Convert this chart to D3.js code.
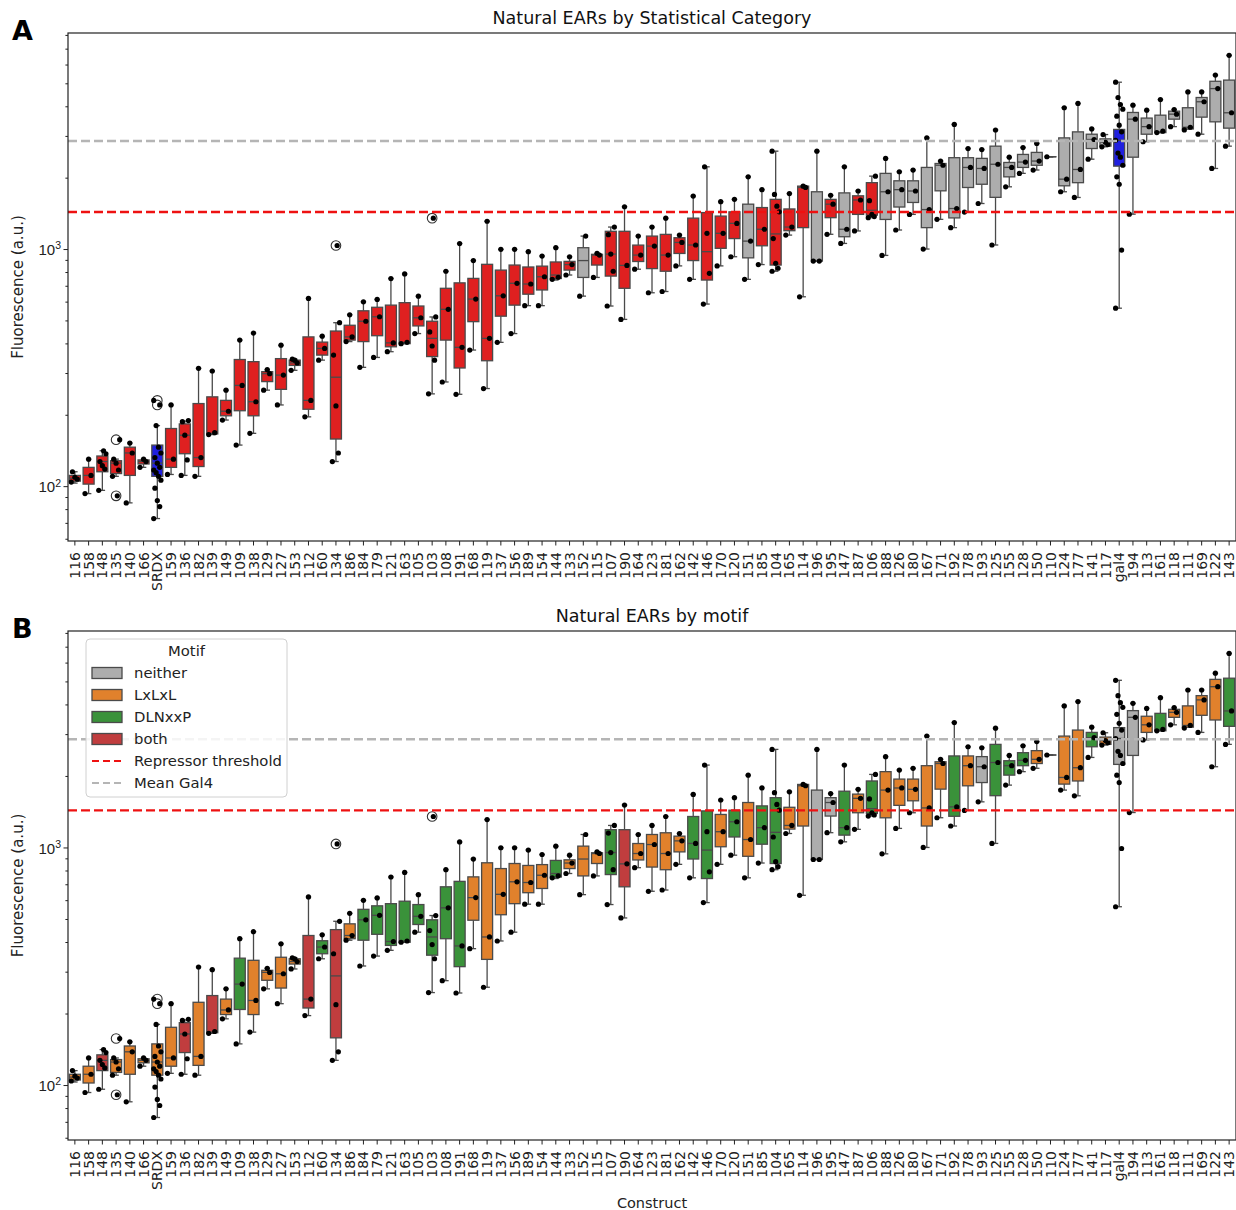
<!DOCTYPE html>
<html>
<head>
<meta charset="utf-8">
<script src="https://cdn.jsdelivr.net/npm/d3@7"></script>
<style>
  body { margin: 0; background: #fff; }
  svg { display: block; font-family: "DejaVu Sans", sans-serif; }
</style>
</head>
<body>
<svg id="fig" width="1236" height="1210"></svg>
<script>
// Constructs, ordered by median fluorescence
const constructs = ["116","158","148","135","140","166","SRDX","159","136","182","139","149","109","138","129","127","153","112","160","134","186","184","179","121","163","105","103","108","191","168","119","137","156","189","154","144","133","152","115","107","190","164","123","181","162","142","146","170","120","151","185","104","165","114","196","195","147","187","106","188","126","180","167","171","192","178","193","125","155","128","150","110","124","177","141","117","gal4","194","113","161","118","111","169","122","143"];

// Box statistics (fluorescence, a.u.)
const whiskerLow  = [103,93,96,110,85,120,73,112,111,110,165,190,149,167,254,220,308,196,340,127,407,317,349,369,399,440,245,275,244,375,258,404,440,577,577,740,777,633,759,575,505,822,654,662,849,745,586,849,928,745,860,806,1145,629,890,1154,1056,1192,1356,940,1203,1400,1000,1334,1231,1432,1556,1040,1830,2085,2154,2450,1744,1650,2393,2698,563,1403,2835,3098,3283,3210,3050,2187,2716];
const quartile1   = [105,102,115,113,111,124,110,120,137,121,166,198,208,198,276,256,323,211,357,158,413,407,431,387,399,474,352,413,315,494,338,521,580,645,672,751,815,759,856,769,683,886,827,806,958,894,740,1007,1107,918,1032,856,1195,1231,890,1356,1127,1400,1390,1333,1504,1572,1231,1760,1353,1818,1876,1652,2016,2209,2256,2450,1848,1905,2654,2716,2237,2440,3050,3098,3530,3210,3600,3440,3235];
const medians     = [108,111,127,125,138,127,125,130,164,132,167,207,266,227,298,294,331,230,381,288,426,496,518,402,404,513,420,557,385,615,420,635,717,712,764,777,860,894,943,952,853,943,1029,943,1066,1040,975,1165,1283,1080,1212,1158,1238,1819,890,1546,1212,1610,1457,1744,1780,1757,1467,2256,1482,2209,2187,2278,2209,2327,2350,2450,1971,2166,2897,2818,2875,3530,3283,3120,3706,3263,4180,4750,3756];
const quartile3   = [111,120,134,128,146,129,149,175,183,223,238,230,342,335,304,345,340,426,405,451,477,549,568,580,594,575,496,683,720,752,862,815,856,840,847,882,887,1013,950,1188,1188,1039,1134,1153,1116,1350,1425,1377,1435,1546,1496,1620,1476,1842,1744,1620,1725,1677,1905,2085,1940,1940,2209,2295,2428,2428,2412,2716,2318,2506,2556,2450,2943,3120,3050,2915,3195,3767,3567,3669,3815,3944,4356,5100,5158];
const whiskerHigh = [115,130,141,130,152,130,180,220,188,314,306,254,413,442,310,393,343,619,429,489,528,599,613,751,785,633,517,806,1055,894,1310,997,997,975,934,1013,928,1134,958,1238,1508,1134,1238,1350,1145,1672,2222,1584,1620,2016,1780,2587,1714,1842,2587,1686,2222,1757,2030,2410,2118,2154,2943,2350,3355,2654,2628,3178,2440,2680,2790,2450,3944,4112,3210,3040,5054,4045,3850,4270,3875,4600,4600,5414,6560];

// Individual replicate measurements
const observations = [
  [104,107,109,115],[93,111,130],[96,118,122,127,137,141],[110,117,125,130,157,91],[85,138,152],[120,127,130],
  [73,82,87,98,106,110,114,117,120,125,132,138,146,180,230,220],
  [112,130,220],[111,129,164,187,189],[110,132,314],[165,168,306],[190,207,254],[149,266,413],[167,227,442],
  [254,298,310],[220,294,393],[308,331,340,343],[196,230,619],[340,381,429],[127,138,218,357,489,1035],
  [407,426,528],[317,496,599],[349,518,613],[369,402,751],[399,404,785],[440,513,633],[245,340,390,447,517,1350],
  [275,557,806],[244,385,1055],[375,615,894],[258,420,1310],[404,635,997],[440,717,997],[577,712,975],
  [577,764,934],[745,760,1013],[777,860,928],[633,1134],[759,943,958],[575,806,952,1150,1238],[505,853,1508],
  [822,943,1134],[654,1029,1238],[662,943,1350],[849,1066,1145],[745,1040,1672],[586,790,1165,2222],
  [849,1165,1584],[928,1283,1620],[745,1080,2016],[860,1212,1780],[806,830,871,1107,1435,1517,1700,2587],
  [1145,1238,1714],[629,1819,1842],[890,890,2587],[1154,1546,1686],[1056,1212,2222],[1192,1610,1757],
  [1356,1370,1400,1600,2030],[940,1744,2410],[1203,1780,2118],[1400,1757,2154],[1000,1467,2943],
  [1334,2256,2350],[1231,1482,3355],[1432,2209,2654],[1556,2187,2628],[1040,2278,3178],[1830,2209,2440],
  [2085,2327,2680],[2154,2350,2790],[2450],[1744,1971,3944],[1650,2166,4112],[2393,2897,3210],[2698,2760,2818,3040],
  [563,990,1876,2016,2256,2440,2540,2875,3120,3330,3634,3890,4070,4356,5054],
  [1403,3530,4045],[2835,3283,3850],[3098,3140,4270],[3283,3706,3875],[3180,3263,4600],[3050,4180,4600],
  [2187,4750,5414],[2716,3756,6560]
];

// Points beyond the whiskers
const fliers = { "135": [157, 91], "SRDX": [230, 220], "134": [1035], "103": [1350] };

// Statistical category: S = repressor, C = control, N = not significant
const statCategory = ["S","S","S","S","S","S","C","S","S","S","S","S","S","S","S","S","S","S","S","S","S","S","S","S","S","S","S","S","S","S","S","S","S","S","S","S","S","N","S","S","S","S","S","S","S","S","S","S","S","N","S","S","S","S","N","S","N","S","S","N","N","N","N","N","N","N","N","N","N","N","N","N","N","N","N","N","C","N","N","N","N","N","N","N","N"];

// Motif content
const motifs = ["LxLxL","LxLxL","both","LxLxL","LxLxL","LxLxL","LxLxL","LxLxL","both","LxLxL","both","LxLxL","DLNxxP","LxLxL","LxLxL","LxLxL","LxLxL","both","DLNxxP","both","LxLxL","DLNxxP","DLNxxP","DLNxxP","DLNxxP","DLNxxP","DLNxxP","DLNxxP","DLNxxP","LxLxL","LxLxL","LxLxL","LxLxL","LxLxL","LxLxL","DLNxxP","LxLxL","LxLxL","LxLxL","DLNxxP","both","LxLxL","LxLxL","LxLxL","LxLxL","DLNxxP","DLNxxP","LxLxL","DLNxxP","LxLxL","DLNxxP","DLNxxP","LxLxL","LxLxL","neither","neither","DLNxxP","LxLxL","DLNxxP","LxLxL","LxLxL","LxLxL","LxLxL","LxLxL","DLNxxP","LxLxL","neither","DLNxxP","DLNxxP","DLNxxP","LxLxL","LxLxL","LxLxL","LxLxL","DLNxxP","LxLxL","neither","neither","LxLxL","DLNxxP","LxLxL","LxLxL","LxLxL","LxLxL","DLNxxP"];

const motifOrder = ["neither","LxLxL","DLNxxP","both"];
const repressorThreshold = 1432;
const meanGal4 = 2856;

// ---------------------------------------------------------------
const statColors = { S: "#df2020", C: "#2020df", N: "#adadad" };
const motifColors = { neither: "#adadad", LxLxL: "#e1812c", DLNxxP: "#3a923a", both: "#c03d3e" };
const edge = "#4a4a4a";

const svg = d3.select("#fig");
const left = 68, right = 1236;
const x = d3.scaleBand().domain(constructs).range([left, right]).padding(0);
const boxW = x.bandwidth() * 0.8;
const yDomain = [58.7, 8150];
const jitter = j => (((j * 5) % 7) - 3) * 1.2;

function drawPanel(top, bottom, fillOf, title, letter, id) {
  const y = d3.scaleLog().domain(yDomain).range([bottom, top]);
  const g = svg.append("g");

  g.append("clipPath").attr("id", id).append("rect")
    .attr("x", left).attr("y", top).attr("width", right - left).attr("height", bottom - top);
  const plot = g.append("g").attr("clip-path", `url(#${id})`);

  const rows = constructs.map((c, i) => ({
    c, i, lo: whiskerLow[i], q1: quartile1[i], med: medians[i], q3: quartile3[i], hi: whiskerHigh[i]
  }));

  const box = plot.selectAll("g.box").data(rows).join("g").attr("class", "box")
    .attr("transform", d => `translate(${x(d.c) + x.bandwidth() / 2},0)`);

  // whiskers + caps
  box.append("line").attr("x1", 0).attr("x2", 0)
    .attr("y1", d => y(d.lo)).attr("y2", d => y(d.q1))
    .attr("stroke", edge).attr("stroke-width", 1.3);
  box.append("line").attr("x1", 0).attr("x2", 0)
    .attr("y1", d => y(d.q3)).attr("y2", d => y(d.hi))
    .attr("stroke", edge).attr("stroke-width", 1.3);
  box.append("line").attr("x1", -2.75).attr("x2", 2.75)
    .attr("y1", d => y(d.lo)).attr("y2", d => y(d.lo))
    .attr("stroke", edge).attr("stroke-width", 1.3);
  box.append("line").attr("x1", -2.75).attr("x2", 2.75)
    .attr("y1", d => y(d.hi)).attr("y2", d => y(d.hi))
    .attr("stroke", edge).attr("stroke-width", 1.3);

  // boxes
  box.append("rect")
    .attr("x", -boxW / 2).attr("width", boxW)
    .attr("y", d => y(d.q3)).attr("height", d => Math.max(0.01, y(d.q1) - y(d.q3)))
    .attr("fill", d => fillOf(d.i)).attr("stroke", edge).attr("stroke-width", 1.3);
  // medians
  box.append("line").attr("x1", -boxW / 2).attr("x2", boxW / 2)
    .attr("y1", d => y(d.med)).attr("y2", d => y(d.med))
    .attr("stroke", edge).attr("stroke-width", 1.3);

  // fliers
  rows.forEach(d => {
    (fliers[d.c] || []).forEach(v => {
      plot.append("circle")
        .attr("cx", x(d.c) + x.bandwidth() / 2).attr("cy", y(v)).attr("r", 4.8)
        .attr("fill", "#fff").attr("stroke", "#333").attr("stroke-width", 1.1);
    });
  });

  // replicate points
  rows.forEach(d => {
    observations[d.i].forEach((v, j) => {
      plot.append("circle")
        .attr("cx", x(d.c) + x.bandwidth() / 2 + jitter(j)).attr("cy", y(v)).attr("r", 2.6)
        .attr("fill", "#000");
    });
  });

  // reference lines
  plot.append("line").attr("x1", left).attr("x2", right)
    .attr("y1", y(meanGal4)).attr("y2", y(meanGal4))
    .attr("stroke", "#b5b5b5").attr("stroke-width", 2.4).attr("stroke-dasharray", "9,4");
  plot.append("line").attr("x1", left).attr("x2", right)
    .attr("y1", y(repressorThreshold)).attr("y2", y(repressorThreshold))
    .attr("stroke", "#ee1111").attr("stroke-width", 2.4).attr("stroke-dasharray", "9,4");

  // y axis: minor and major ticks
  const minor = [60,70,80,90,200,300,400,500,600,700,800,900,2000,3000,4000,5000,6000,7000,8000];
  const major = [100, 1000];
  const ay1 = g.append("g").attr("transform", `translate(${left},0)`)
    .call(d3.axisLeft(y).tickValues(minor).tickSize(2.6).tickFormat(""));
  const ay2 = g.append("g").attr("transform", `translate(${left},0)`)
    .call(d3.axisLeft(y).tickValues(major).tickSize(4.5).tickFormat(""));
  [ay1, ay2].forEach(a => {
    a.select(".domain").remove();
    a.selectAll("line").attr("stroke", "#222").attr("stroke-width", 1);
  });
  ay2.selectAll(".tick").each(function (v) {
    const t = d3.select(this).append("text")
      .attr("x", -7).attr("dy", "0.38em").attr("text-anchor", "end")
      .attr("fill", "#222").attr("font-size", 15);
    t.append("tspan").text("10");
    t.append("tspan").attr("font-size", 10.5).attr("dy", "-0.55em").text(String(Math.round(Math.log10(v))));
  });

  // x axis
  const ax = g.append("g").attr("transform", `translate(0,${bottom})`)
    .call(d3.axisBottom(x).tickSize(4.5));
  ax.select(".domain").remove();
  ax.selectAll("line").attr("stroke", "#222");
  ax.selectAll("text")
    .attr("transform", "rotate(-90)")
    .attr("x", -11).attr("y", 0).attr("dy", "0.36em")
    .attr("text-anchor", "end").attr("font-size", 14).attr("fill", "#222")
    .attr("font-family", "DejaVu Sans, sans-serif");

  // spines
  g.append("rect").attr("x", left).attr("y", top).attr("width", right - left).attr("height", bottom - top)
    .attr("fill", "none").attr("stroke", "#222").attr("stroke-width", 1.2);

  // titles
  g.append("text").attr("x", (left + right) / 2).attr("y", top - 9)
    .attr("text-anchor", "middle").attr("font-size", 17.5).attr("fill", "#111").text(title);
  g.append("text").attr("x", 12).attr("y", top + 7)
    .attr("font-size", 27).attr("font-weight", "bold").attr("fill", "#000").text(letter);
  g.append("text").attr("transform", `translate(23,${(top + bottom) / 2}) rotate(-90)`)
    .attr("text-anchor", "middle").attr("font-size", 15).attr("fill", "#222").text("Fluorescence (a.u.)");

  return { g, y };
}

drawPanel(33, 541, i => statColors[statCategory[i]], "Natural EARs by Statistical Category", "A", "clipA");
const pB = drawPanel(631, 1140, i => motifColors[motifs[i]], "Natural EARs by motif", "B", "clipB");

pB.g.append("text").attr("x", (left + right) / 2).attr("y", 1208)
  .attr("text-anchor", "middle").attr("font-size", 14.5).attr("fill", "#222").text("Construct");

// legend
const lg = pB.g.append("g").attr("transform", "translate(86,639)");
lg.append("rect").attr("width", 201).attr("height", 158).attr("rx", 4)
  .attr("fill", "#fff").attr("fill-opacity", 0.85).attr("stroke", "#d0d0d0");
lg.append("text").attr("x", 100.5).attr("y", 17).attr("text-anchor", "middle")
  .attr("font-size", 14.8).attr("fill", "#222").text("Motif");
const entries = motifOrder.map(m => ({ label: m, kind: "patch", color: motifColors[m] }))
  .concat([{ label: "Repressor threshold", kind: "line", color: "#ee1111" },
           { label: "Mean Gal4", kind: "line", color: "#b5b5b5" }]);
const row = lg.selectAll("g.entry").data(entries).join("g").attr("class", "entry")
  .attr("transform", (d, k) => `translate(0,${34 + k * 22})`);
row.filter(d => d.kind === "patch").append("rect")
  .attr("x", 6).attr("y", -5.5).attr("width", 30).attr("height", 11)
  .attr("fill", d => d.color).attr("stroke", edge).attr("stroke-width", 1.3);
row.filter(d => d.kind === "line").append("line")
  .attr("x1", 6).attr("x2", 36).attr("y1", 0).attr("y2", 0)
  .attr("stroke", d => d.color).attr("stroke-width", 2).attr("stroke-dasharray", "7,4");
row.append("text").attr("x", 48).attr("dy", "0.35em")
  .attr("font-size", 14.8).attr("fill", "#222").text(d => d.label);
</script>
</body>
</html>
